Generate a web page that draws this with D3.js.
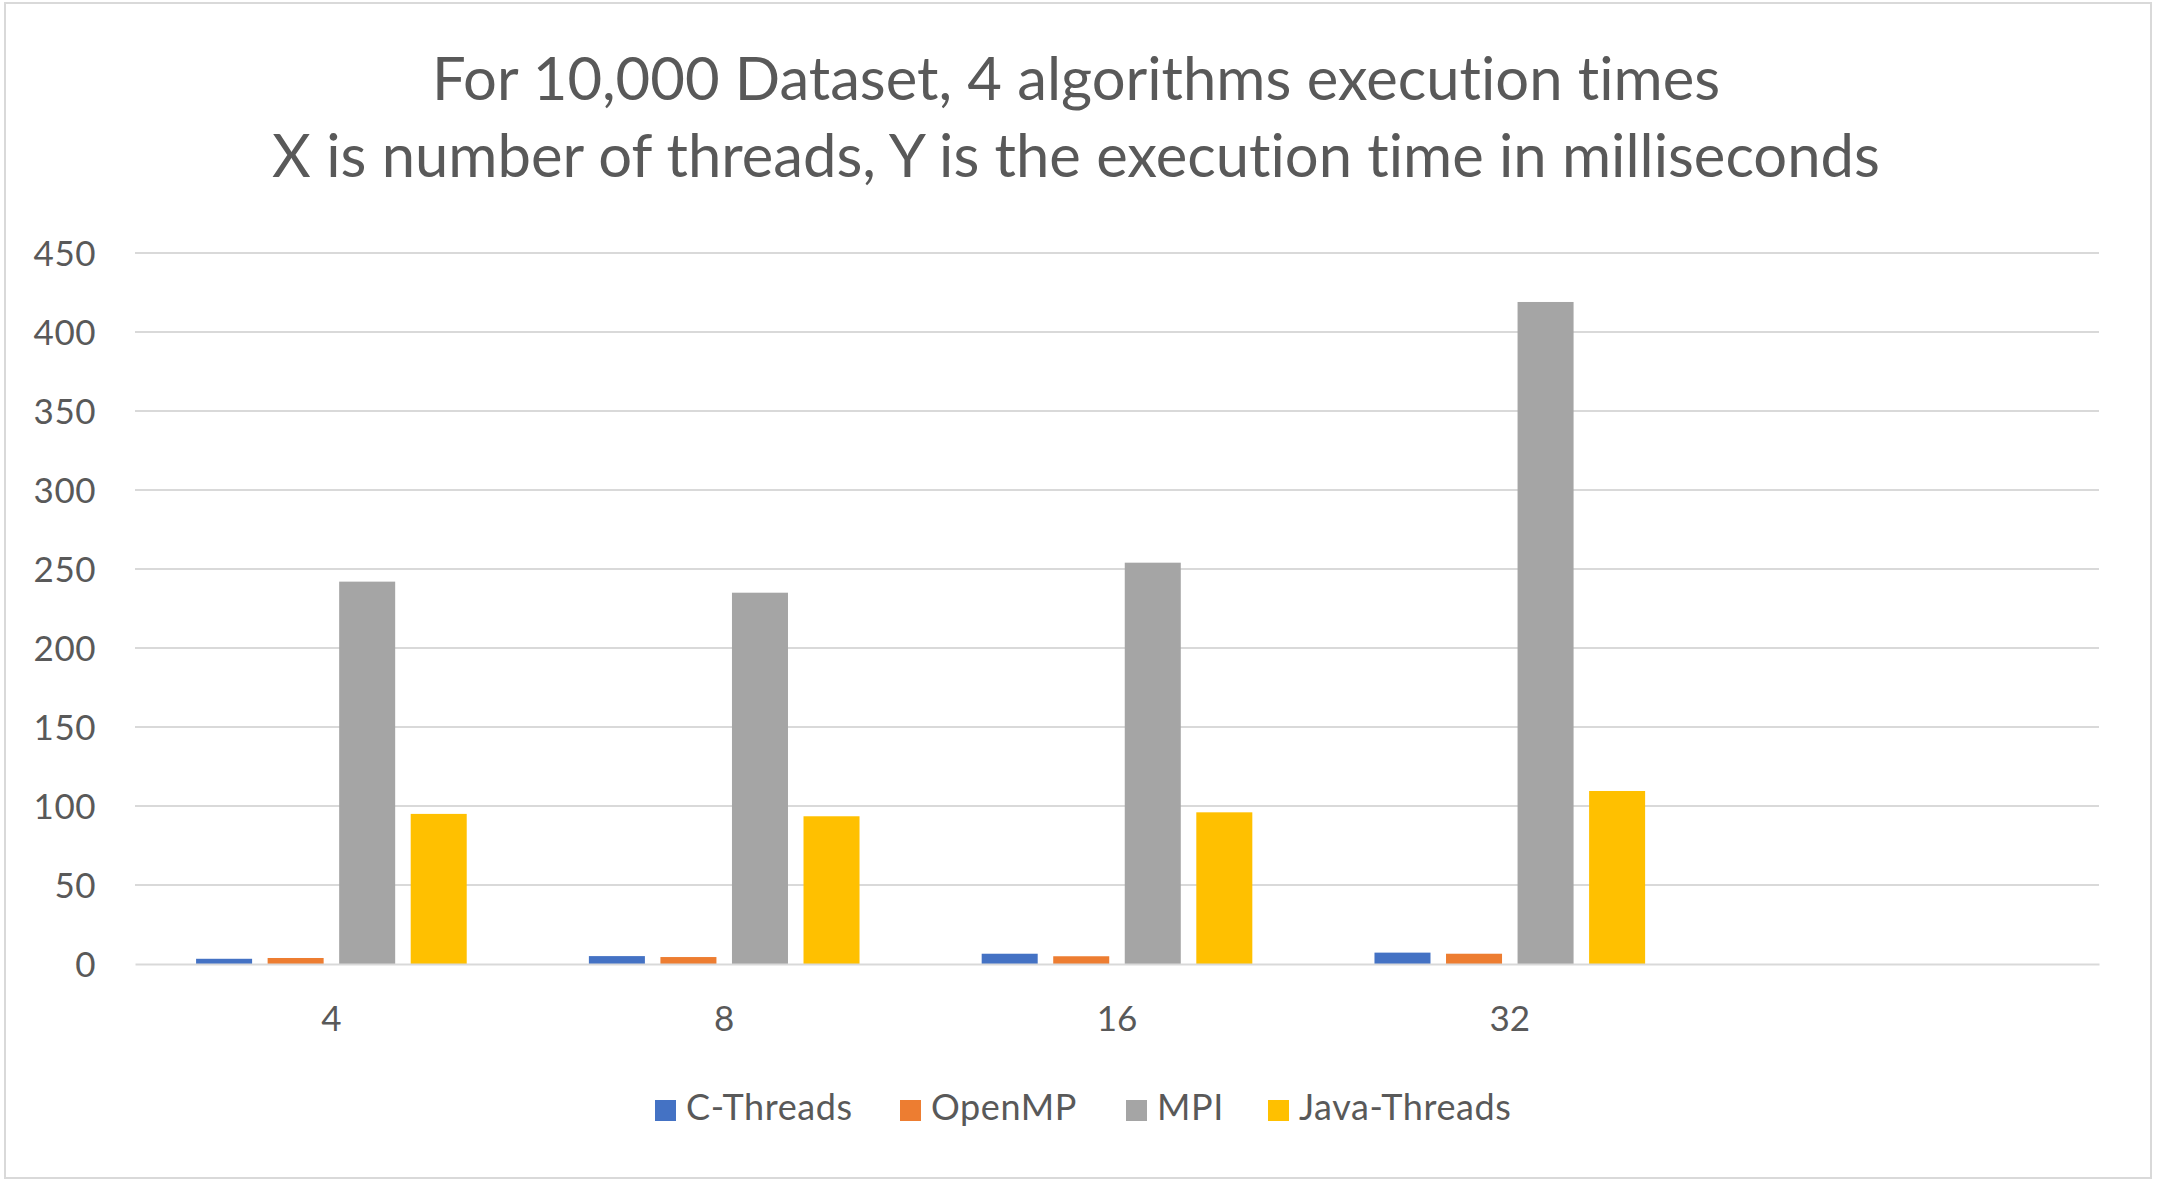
<!DOCTYPE html>
<html>
<head>
<meta charset="utf-8">
<script src="https://cdn.jsdelivr.net/npm/d3@7"></script>
<style>
  html, body { margin: 0; padding: 0; background: #fff; }
  svg { display: block; }
  text { font-family: Lato, "Open Sans", sans-serif; fill: #595959; font-variant-ligatures: none; font-feature-settings: "liga" 0, "clig" 0; }
</style>
</head>
<body>
<svg id="chart" width="2158" height="1182"></svg>
<script>
const titleLines = ["For 10,000 Dataset, 4 algorithms execution times",
                    "X is number of threads, Y is the execution time in milliseconds"];
const categories = ["4", "8", "16", "32", ""];
const seriesNames = ["C-Threads", "OpenMP", "MPI", "Java-Threads"];
const seriesColors = ["#4472C4", "#ED7D31", "#A5A5A5", "#FFC000"];
const cThreads = [3.3, 5.0, 6.5, 7.2, null];
const openMP = [3.8, 4.4, 4.9, 6.5, null];
const mpi = [242, 235, 254, 419, null];
const javaThreads = [95, 93.5, 96, 109.5, null];
const yTicks = [0, 50, 100, 150, 200, 250, 300, 350, 400, 450];

const seriesValues = [cThreads, openMP, mpi, javaThreads];

const svg = d3.select("#chart");

// chart border
svg.append("rect").attr("x", 5).attr("y", 3).attr("width", 2146).attr("height", 1175)
  .attr("fill", "#fff").attr("stroke", "#D9D9D9").attr("stroke-width", 2);

const plot = { left: 135, right: 2099, top: 253, bottom: 964 };

const x0 = d3.scaleBand().domain(categories).range([plot.left, plot.right]).padding(0);
const bw = x0.bandwidth();
const gw = bw * 0.689;
const x1 = d3.scaleBand().domain(seriesNames)
  .range([(bw - gw) / 2, (bw + gw) / 2]).paddingInner(0.217).paddingOuter(0);
const y = d3.scaleLinear().domain([0, 450]).range([plot.bottom, plot.top]);

// gridlines
svg.append("g").selectAll("line").data(yTicks.filter(t => t !== 0)).join("line")
  .attr("x1", plot.left).attr("x2", plot.right)
  .attr("y1", d => y(d)).attr("y2", d => y(d))
  .attr("stroke", "#D9D9D9").attr("stroke-width", 2);

// y labels
const yAxis = d3.axisLeft(y).tickValues(yTicks).tickSize(0).tickPadding(0);
const yg = svg.append("g").attr("transform", `translate(96,0)`).call(yAxis);
yg.select(".domain").remove();
yg.selectAll("text").style("font-size", "35px").attr("fill", "#595959")
  .attr("font-family", "Lato, 'Open Sans', sans-serif").attr("dy", "0.36em")
  .style("letter-spacing", "0.5px");

// bars
const rows = categories.map((c, i) => ({ cat: c, vals: seriesNames.map((s, j) => ({ s, j, v: seriesValues[j][i] })) }));
svg.append("g").selectAll("g").data(rows).join("g")
  .attr("transform", d => `translate(${x0(d.cat)},0)`)
  .selectAll("rect").data(d => d.vals.filter(v => v.v != null)).join("rect")
  .attr("x", d => x1(d.s)).attr("width", x1.bandwidth())
  .attr("y", d => y(d.v)).attr("height", d => y(0) - y(d.v))
  .attr("fill", d => seriesColors[d.j]);

// x axis
const xAxis = d3.axisBottom(x0).tickSize(0).tickPadding(0);
const xg = svg.append("g").attr("transform", `translate(0,${plot.bottom})`).call(xAxis);
xg.select(".domain").attr("stroke", "#D9D9D9").attr("stroke-width", 2);
xg.selectAll("text").style("font-size", "35px").attr("fill", "#595959")
  .attr("font-family", "Lato, 'Open Sans', sans-serif").attr("dy", 0).attr("y", 67);

// title
const title = svg.append("g");
const tl = title.selectAll("text").data(titleLines).join("text")
  .attr("x", 1076).attr("y", (d, i) => i === 0 ? 100 : 177)
  .attr("text-anchor", "middle").style("font-size", "55px").text(d => d);
// fit line 2 width to ~1608
const w2 = tl.nodes()[1].getComputedTextLength();
const fs = 55 * 1608 / w2;
tl.style("font-size", fs + "px");

// legend
const legendX = [655, 900, 1126, 1268];
const lg = svg.append("g").selectAll("g").data(seriesNames).join("g")
  .attr("transform", (d, i) => `translate(${legendX[i]},1100)`);
lg.append("rect").attr("width", 21).attr("height", 21).attr("fill", (d, i) => seriesColors[i]);
lg.append("text").attr("x", 31).attr("y", 20).style("font-size", "36px")
  .style("letter-spacing", "0.6px").text(d => d);
</script>
</body>
</html>
